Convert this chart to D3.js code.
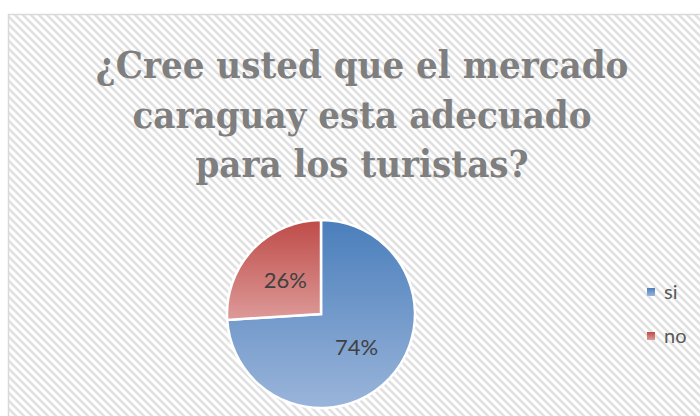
<!DOCTYPE html>
<html>
<head>
<meta charset="utf-8">
<script src="https://cdn.jsdelivr.net/npm/d3@7"></script>
<style>
  html, body { margin: 0; padding: 0; background: #fff; }
  #chart { width: 700px; height: 416px; }
</style>
</head>
<body>
<div id="chart"></div>
<script>
const categories = ['si', 'no']
const values = [74, 26]
const titleLines = ['¿Cree usted que el mercado', 'caraguay esta adecuado', 'para los turistas?']
const colors = [
  { top: '#4a7ebb', bottom: '#9ab5da' },
  { top: '#be4b48', bottom: '#dd9a98' }
]

const width = 700
const height = 416

const svg = d3.select('#chart')
  .append('svg')
  .attr('width', width)
  .attr('height', height)
  .attr('viewBox', `0 0 ${width} ${height}`)

const defs = svg.append('defs')

// striped background, like the office "wide diagonal" fill
const pattern = defs.append('pattern')
  .attr('id', 'stripes')
  .attr('patternUnits', 'userSpaceOnUse')
  .attr('width', 8)
  .attr('height', 8)
pattern.append('rect').attr('width', 8).attr('height', 8).attr('fill', '#fff')
pattern.append('path')
  .attr('d', 'M-1,-1L9,9 M-5,3L5,13 M3,-5L13,5')
  .attr('stroke', '#e1e1e1')
  .attr('stroke-width', 2.6)

colors.forEach((c, i) => {
  const grad = defs.append('linearGradient')
    .attr('id', `grad${i}`)
    .attr('x1', 0).attr('y1', 0)
    .attr('x2', 0).attr('y2', 1)
  grad.append('stop').attr('offset', '0%').attr('stop-color', c.top)
  grad.append('stop').attr('offset', '100%').attr('stop-color', c.bottom)
})

svg.append('rect')
  .attr('x', 8.5)
  .attr('y', 14.5)
  .attr('width', width)
  .attr('height', height)
  .attr('fill', 'url(#stripes)')
  .attr('stroke', '#d9d9d9')
  .attr('stroke-width', 1.5)

// title
const title = svg.append('text')
  .attr('text-anchor', 'middle')
  .attr('font-family', 'DejaVu Serif Condensed, DejaVu Serif')
  .attr('font-stretch', 'condensed')
  .attr('font-weight', 'bold')
  .attr('font-size', 38)
  .attr('fill', '#7f7f7f')

title.selectAll('tspan')
  .data(titleLines)
  .enter()
  .append('tspan')
  .attr('x', 362)
  .attr('y', (d, i) => 78 + i * 49.5)
  .text((d) => d)

// pie
const cx = 321
const cy = 314
const radius = 94

const pie = d3.pie().sort(null)
const arc = d3.arc().innerRadius(0).outerRadius(radius)
const labelArc = d3.arc().innerRadius(radius * 0.52).outerRadius(radius * 0.52)

const g = svg.append('g').attr('transform', `translate(${cx},${cy})`)

const slices = g.selectAll('.slice')
  .data(pie(values))
  .enter()
  .append('g')
  .attr('class', 'slice')

slices.append('path')
  .attr('d', arc)
  .attr('fill', (d, i) => `url(#grad${i})`)
  .attr('stroke', '#fff')
  .attr('stroke-width', 2.5)

slices.append('text')
  .attr('transform', (d) => `translate(${labelArc.centroid(d)})`)
  .attr('text-anchor', 'middle')
  .attr('dy', '0.36em')
  .attr('font-family', 'Lato')
  .attr('font-size', 22)
  .attr('fill', '#404040')
  .text((d) => Math.round(d.value / d3.sum(values) * 100) + '%')

// legend
const legend = svg.append('g')
  .attr('transform', 'translate(647,288)')

const item = legend.selectAll('.item')
  .data(categories)
  .enter()
  .append('g')
  .attr('class', 'item')
  .attr('transform', (d, i) => `translate(0,${i * 44})`)

item.append('rect')
  .attr('width', 8)
  .attr('height', 8)
  .attr('fill', (d, i) => `url(#grad${i})`)

item.append('text')
  .attr('x', 17)
  .attr('y', 11)
  .attr('font-family', 'Lato')
  .attr('font-size', 20)
  .attr('fill', '#595959')
  .text((d) => d)
</script>
</body>
</html>
